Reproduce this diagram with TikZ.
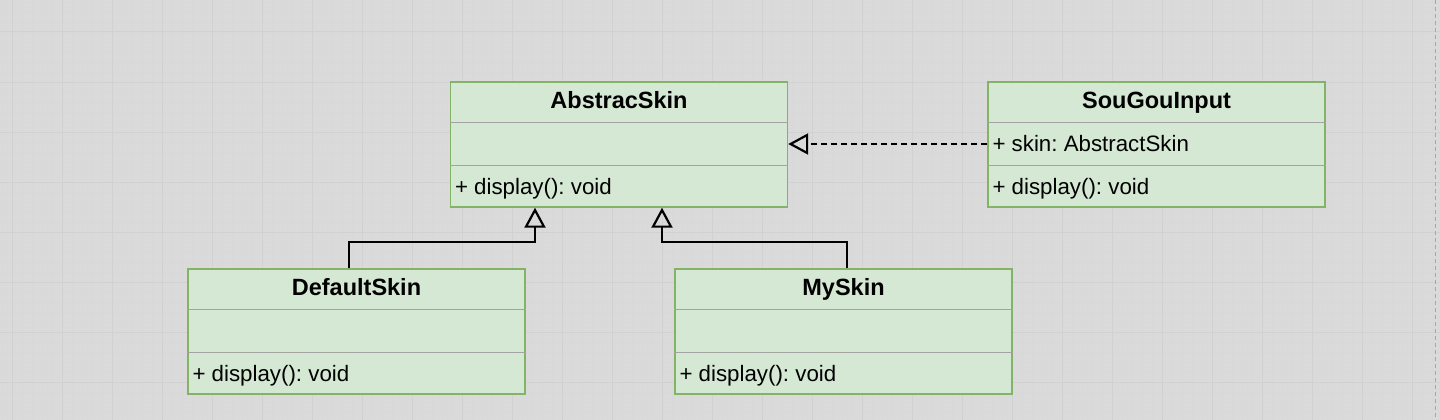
\documentclass[tikz,border=0pt]{standalone}
\usepackage{fontspec}
\setmainfont{Liberation Sans}
\usepackage{tikz}
\usetikzlibrary{arrows.meta}
\usetikzlibrary{calc}
\definecolor{canvas}{HTML}{DADADA}
\definecolor{gridmajor}{HTML}{D1D1D1}
\definecolor{gridminor}{HTML}{D8D8D8}
\definecolor{classfill}{HTML}{D5E8D4}
\definecolor{classline}{HTML}{82B366}
\definecolor{sepline}{HTML}{A3A3A3}
\tikzset{
  umlbox/.style={
    draw=classline, fill=classfill, line width=1.4pt,
    minimum width=337pt, minimum height=125pt, inner sep=0pt
  },
  classname/.style={font=\fontsize{23.5}{28}\selectfont\bfseries, inner sep=0pt, anchor=base},
  member/.style={font=\fontsize{22.3}{26}\selectfont, anchor=base west, inner sep=0pt},
  separator/.style={draw=sepline, line width=1pt},
  realize/.style={
    line width=2.2pt, dash pattern=on 6pt off 4pt,
    -{Triangle[open, length=20pt, width=21pt]}
  },
  extends/.style={
    line width=2.2pt,
    -{Triangle[open, length=20pt, width=21pt]}
  }
}

\begin{document}
\frenchspacing
\begin{tikzpicture}[x=1pt, y=-1pt]
    \fill [canvas] (0,0) rectangle (1440,420);
    \useasboundingbox (0,0) rectangle (1440,420);

    % grid of the canvas
    \foreach \x in {2,12,...,1432} \draw [gridminor, line width=0.5pt] (\x,0) -- (\x,420);
    \foreach \y in {2,12,...,412} \draw [gridminor, line width=0.5pt] (0,\y) -- (1440,\y);
    \foreach \x in {12,62,...,1412} \draw [gridmajor, line width=1pt] (\x,0) -- (\x,420);
    \foreach \y in {32,82,...,382} \draw [gridmajor, line width=1pt] (0,\y) -- (1440,\y);
    \draw [gray!70, line width=1pt, dash pattern=on 4pt off 3pt] (1435,0) -- (1435,420);

    \node [umlbox] (abstract) at (619,144.5)    {};
    \node [umlbox] (sougou)   at (1156.5,144.5) {};
    \node [umlbox] (default)  at (356.5,331.5)  {};
    \node [umlbox] (myskin)   at (843.5,331.5)  {};

    \foreach \c in {abstract, sougou, default, myskin} {
      \draw [separator] ([yshift=-41pt]\c.north west) -- ([yshift=-41pt]\c.north east);
      \draw [separator] ([yshift=-84pt]\c.north west) -- ([yshift=-84pt]\c.north east);
    }

    \node [classname] (abstract-name) at ([yshift=-27pt]abstract.north) {AbstracSkin};
    \node [classname] (sougou-name)   at ([yshift=-27pt]sougou.north)   {SouGouInput};
    \node [classname] (default-name)  at ([yshift=-27pt]default.north)  {DefaultSkin};
    \node [classname] (myskin-name)   at ([yshift=-27pt]myskin.north)   {MySkin};

    \node [member] (sougou-skin) at ([xshift=5pt, yshift=-70pt]sougou.north west) {+ skin: AbstractSkin};

    \node [member] (abstract-op) at ([xshift=5pt, yshift=-113pt]abstract.north west) {+ display(): void};
    \node [member] (sougou-op)   at ([xshift=5pt, yshift=-113pt]sougou.north west)   {+ display(): void};
    \node [member] (default-op)  at ([xshift=5pt, yshift=-113pt]default.north west)  {+ display(): void};
    \node [member] (myskin-op)   at ([xshift=5pt, yshift=-113pt]myskin.north west)   {+ display(): void};

    \draw [realize] ([yshift=0.5pt]sougou.west) -- ([yshift=0.5pt]abstract.east);
    \draw [extends] ([xshift=-7.5pt]default.north) -- ++(0,-26) -| ([xshift=-84pt]abstract.south);
    \draw [extends] ([xshift=3.5pt]myskin.north) -- ++(0,-26) -| ([xshift=43pt]abstract.south);
\end{tikzpicture}
\end{document}
